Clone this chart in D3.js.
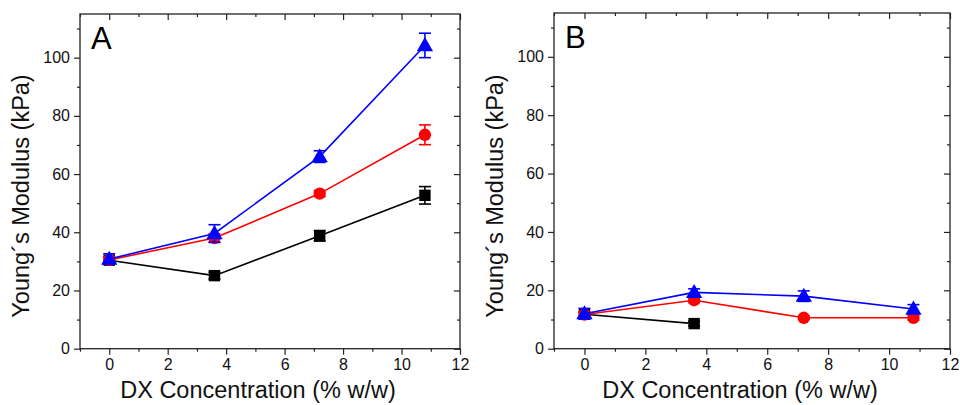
<!DOCTYPE html>
<html>
<head>
<meta charset="utf-8">
<script src="https://cdn.jsdelivr.net/npm/d3@7"></script>
<style>
  body { margin: 0; background: #fff; }
  svg { display: block; font-family: "Liberation Sans", Arial, sans-serif; }
</style>
</head>
<body>
<svg id="chart" width="960" height="405"></svg>
<script>
// concentrations (% w/w)
const dxConc = [0, 3.6, 7.2, 10.8];

// panel A
const aBlack = [30.4, 25.1, 38.8, 52.7];
const aBlackErr = [1.0, 1.2, 1.8, 3.0];
const aRed = [30.5, 38.0, 53.3, 73.5];
const aRedErr = [1.0, 1.5, 1.0, 3.4];
const aBlue = [30.8, 39.6, 66.0, 104.2];
const aBlueErr = [1.8, 3.0, 2.0, 4.2];

// panel B
const bBlack = [11.8, 8.6];
const bBlackErr = [0.8, 0.8];
const bRed = [11.7, 16.6, 10.6, 10.6];
const bRedErr = [0.8, 0.8, 0.6, 0.8];
const bBlue = [12.0, 19.3, 18.0, 13.6];
const bBlueErr = [1.8, 1.2, 1.8, 1.5];

const xTicks = [0, 2, 4, 6, 8, 10, 12];
const yTicks = [0, 20, 40, 60, 80, 100];

const svg = d3.select("#chart");

function series(y, err, color, shape) {
  return y.map((v, i) => ({x: dxConc[i], y: v, e: err[i], color: color, shape: shape}));
}

function drawPanel(box, letter, groups) {
  const x = d3.scaleLinear().domain([-1, 12]).range([box.left, box.right]);
  const y = d3.scaleLinear().domain([0, 115]).range([box.bottom, box.top]);
  const g = svg.append("g");

  // frame
  g.append("rect")
    .attr("x", box.left).attr("y", box.top)
    .attr("width", box.right - box.left).attr("height", box.bottom - box.top)
    .attr("fill", "none").attr("stroke", "#222").attr("stroke-width", 1.3);

  const minorX = d3.range(-1, 12.5, 1).filter(d => d % 2 !== 0);
  const minorY = d3.range(10, 115, 20);

  // bottom axis
  g.append("g").attr("transform", `translate(0,${box.bottom})`)
    .call(d3.axisBottom(x).tickValues(xTicks).tickSize(6).tickPadding(4));
  g.append("g").attr("transform", `translate(0,${box.bottom})`)
    .call(d3.axisBottom(x).tickValues(minorX).tickSize(3).tickFormat(""));
  // left axis
  g.append("g").attr("transform", `translate(${box.left},0)`)
    .call(d3.axisLeft(y).tickValues(yTicks).tickSize(6).tickPadding(4));
  g.append("g").attr("transform", `translate(${box.left},0)`)
    .call(d3.axisLeft(y).tickValues(minorY).tickSize(3).tickFormat(""));
  // top axis, ticks inward
  g.append("g").attr("transform", `translate(0,${box.top})`)
    .call(d3.axisTop(x).tickValues(xTicks).tickSize(-6).tickFormat(""));
  g.append("g").attr("transform", `translate(0,${box.top})`)
    .call(d3.axisTop(x).tickValues(minorX).tickSize(-3).tickFormat(""));
  // right axis, ticks inward
  g.append("g").attr("transform", `translate(${box.right},0)`)
    .call(d3.axisRight(y).tickValues(yTicks).tickSize(-6).tickFormat(""));
  g.append("g").attr("transform", `translate(${box.right},0)`)
    .call(d3.axisRight(y).tickValues(minorY).tickSize(-3).tickFormat(""));

  g.selectAll(".domain").remove();
  g.selectAll(".tick line").attr("stroke", "#222").attr("stroke-width", 1.2);
  g.selectAll(".tick text").attr("font-size", 16).attr("fill", "#111")
    .attr("font-family", "Liberation Sans, Arial, sans-serif");

  // titles
  g.append("text")
    .attr("x", (box.left + box.right) / 2 - 12).attr("y", 398)
    .attr("text-anchor", "middle").attr("font-size", 23.5).attr("fill", "#111")
    .text("DX Concentration (% w/w)");
  g.append("text")
    .attr("transform", `translate(${box.left - 51},196) rotate(-90)`)
    .attr("text-anchor", "middle").attr("font-size", 23.5).attr("fill", "#111")
    .text("Young´s Modulus (kPa)");
  g.append("text")
    .attr("x", box.left + 11).attr("y", box.top + 35)
    .attr("font-size", 31).attr("fill", "#000")
    .text(letter);

  const line = d3.line().x(d => x(d.x)).y(d => y(d.y));

  groups.forEach(pts => {
    const c = pts[0].color;
    g.append("path").datum(pts)
      .attr("d", line).attr("fill", "none")
      .attr("stroke", c).attr("stroke-width", 1.6);

    // error bars
    const eb = g.append("g").attr("stroke", c).attr("stroke-width", 1.6);
    pts.forEach(d => {
      eb.append("line").attr("x1", x(d.x)).attr("x2", x(d.x))
        .attr("y1", y(d.y - d.e)).attr("y2", y(d.y + d.e));
      [d.y - d.e, d.y + d.e].forEach(v => {
        eb.append("line").attr("x1", x(d.x) - 6).attr("x2", x(d.x) + 6)
          .attr("y1", y(v)).attr("y2", y(v));
      });
    });

    // markers
    const shape = pts[0].shape;
    const sym = shape === "square" ? d3.symbolSquare
      : shape === "circle" ? d3.symbolCircle : d3.symbolTriangle;
    const size = shape === "square" ? 130 : shape === "circle" ? 120 : 115;
    g.selectAll(null).data(pts).enter().append("path")
      .attr("transform", d => `translate(${x(d.x)},${y(d.y) + (shape === "triangle" ? 1 : 0)})`)
      .attr("d", d3.symbol().type(sym).size(size))
      .attr("fill", c);
  });
}

drawPanel({left: 80, right: 460, top: 14, bottom: 348.7}, "A", [
  series(aBlack, aBlackErr, "#000000", "square"),
  series(aRed, aRedErr, "#ff0000", "circle"),
  series(aBlue, aBlueErr, "#0000ff", "triangle")
]);

drawPanel({left: 554, right: 950, top: 13, bottom: 348.7}, "B", [
  series(bBlack, bBlackErr, "#000000", "square"),
  series(bRed, bRedErr, "#ff0000", "circle"),
  series(bBlue, bBlueErr, "#0000ff", "triangle")
]);
</script>
</body>
</html>
